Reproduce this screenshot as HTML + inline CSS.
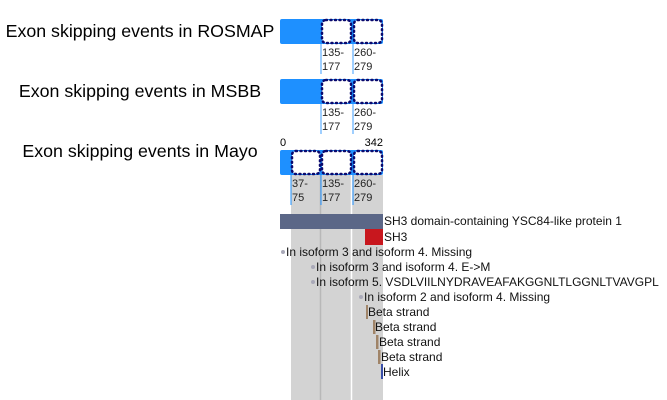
<!DOCTYPE html>
<html><head><meta charset="utf-8"><style>
html,body{margin:0;padding:0;background:#fff;width:667px;height:400px;overflow:hidden}
svg{font-family:"Liberation Sans",Arial,sans-serif}
</style></head><body>
<svg width="667" height="400" viewBox="0 0 667 400">
<g font-size="17.8" fill="#000" text-anchor="middle">
<text x="140" y="37">Exon skipping events in ROSMAP</text>
<text x="140" y="97">Exon skipping events in MSBB</text>
<text x="140" y="157">Exon skipping events in Mayo</text>
</g>
<rect x="291" y="175" width="92" height="225" fill="#d3d3d3"/>
<line x1="320.5" y1="175" x2="320.5" y2="400" stroke="#b8b8b8" stroke-width="1.5"/>
<line x1="351.5" y1="175" x2="351.5" y2="400" stroke="#fff" stroke-width="1.5"/>
<rect x="280" y="19" width="103" height="25" rx="2" fill="#1e90ff"/>
<line x1="321" y1="44" x2="321" y2="74" stroke="#7fbfff" stroke-width="1.5"/>
<line x1="353" y1="44" x2="353" y2="74" stroke="#7fbfff" stroke-width="1.5"/>
<g fill="#fff" stroke="#0a0a6e" stroke-width="2.5" stroke-dasharray="1 3.5" stroke-linecap="round">
<rect x="322" y="20" width="29" height="23" rx="4"/>
<rect x="354" y="20" width="28" height="23" rx="4"/>
</g>
<g font-size="11" fill="#222"><text x="322" y="56">135-</text><text x="322" y="70">177</text><text x="354" y="56">260-</text><text x="354" y="70">279</text></g>
<rect x="280" y="79" width="103" height="25" rx="2" fill="#1e90ff"/>
<line x1="321" y1="104" x2="321" y2="134" stroke="#7fbfff" stroke-width="1.5"/>
<line x1="353" y1="104" x2="353" y2="134" stroke="#7fbfff" stroke-width="1.5"/>
<g fill="#fff" stroke="#0a0a6e" stroke-width="2.5" stroke-dasharray="1 3.5" stroke-linecap="round">
<rect x="322" y="80" width="29" height="23" rx="4"/>
<rect x="354" y="80" width="28" height="23" rx="4"/>
</g>
<g font-size="11" fill="#222"><text x="322" y="116">135-</text><text x="322" y="130">177</text><text x="354" y="116">260-</text><text x="354" y="130">279</text></g>
<g font-size="11" fill="#000"><text x="280" y="146">0</text><text x="383" y="146" text-anchor="end">342</text></g>
<rect x="280" y="150" width="103" height="25" rx="2" fill="#1e90ff"/>
<line x1="291" y1="175" x2="291" y2="205" stroke="#1e90ff" stroke-width="1"/>
<line x1="321" y1="175" x2="321" y2="205" stroke="#1e90ff" stroke-width="1"/>
<line x1="353" y1="175" x2="353" y2="205" stroke="#1e90ff" stroke-width="1"/>
<g fill="#fff" stroke="#0a0a6e" stroke-width="2.5" stroke-dasharray="1 3.5" stroke-linecap="round">
<rect x="292" y="151" width="28" height="23" rx="4"/>
<rect x="322" y="151" width="29" height="23" rx="4"/>
<rect x="354" y="151" width="28" height="23" rx="4"/>
</g>
<g font-size="11" fill="#222"><text x="292" y="187">37-</text><text x="292" y="201">75</text><text x="322" y="187">135-</text><text x="322" y="201">177</text><text x="354" y="187">260-</text><text x="354" y="201">279</text></g>
<rect x="280" y="214" width="103" height="15" fill="#5b6787"/>
<rect x="365" y="229" width="18" height="16" fill="#c8171e"/>
<g fill="#a9a9b8"><circle cx="283" cy="252" r="2"/><circle cx="313" cy="267" r="2"/><circle cx="313" cy="282" r="2"/><circle cx="361" cy="297" r="2"/></g>
<g fill="#a08468"><rect x="366" y="305" width="2" height="14"/><rect x="373" y="320" width="2.5" height="14"/><rect x="376" y="335" width="2.5" height="14"/><rect x="378" y="350" width="2.5" height="14"/></g>
<rect x="381" y="364" width="2" height="15" fill="#3a4fa8"/>
<g font-size="12" fill="#111">
<text x="384" y="225">SH3 domain-containing YSC84-like protein 1</text>
<text x="384" y="241">SH3</text>
<text x="286" y="256">In isoform 3 and isoform 4. Missing</text>
<text x="316" y="271">In isoform 3 and isoform 4. E-&gt;M</text>
<text x="316" y="286">In isoform 5. VSDLVIILNYDRAVEAFAKGGNLTLGGNLTVAVGPL</text>
<text x="364" y="301">In isoform 2 and isoform 4. Missing</text>
<text x="368" y="316">Beta strand</text>
<text x="375" y="331">Beta strand</text>
<text x="379" y="346">Beta strand</text>
<text x="381" y="361">Beta strand</text>
<text x="383" y="376">Helix</text>
</g>
</svg>
</body></html>
